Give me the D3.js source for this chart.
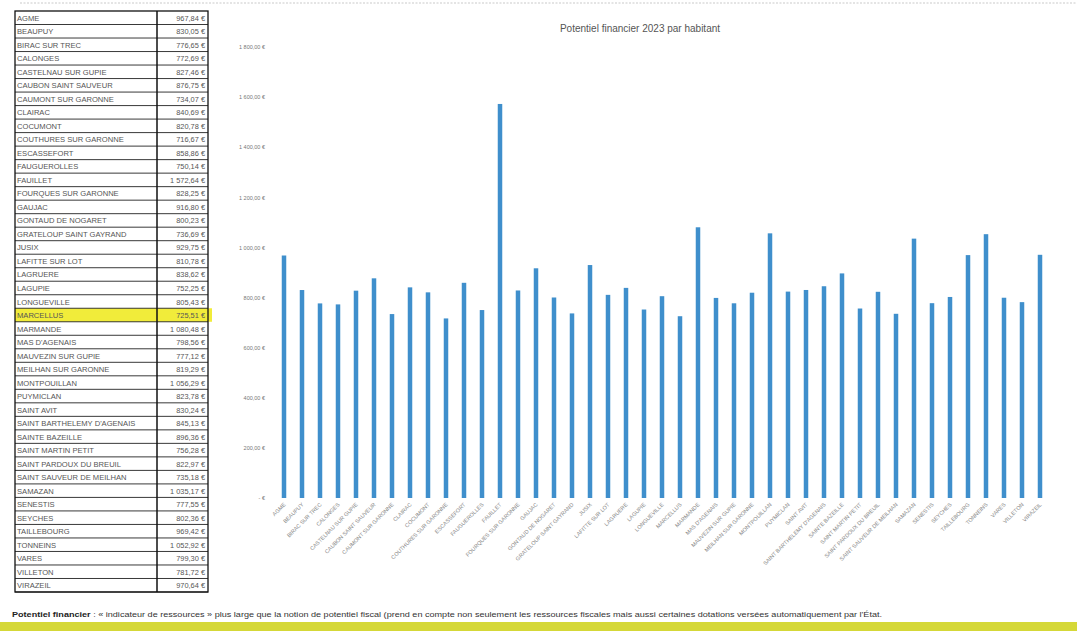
<!DOCTYPE html>
<html><head><meta charset="utf-8">
<script src="https://cdn.jsdelivr.net/npm/d3@7"></script>
<style>
html,body{margin:0;padding:0;background:#fff;}
svg{display:block;font-family:"Liberation Sans","DejaVu Sans",sans-serif;}
</style></head>
<body><svg id="c" width="1077" height="631"></svg>
<script>
const communes = ["AGME","BEAUPUY","BIRAC SUR TREC","CALONGES","CASTELNAU SUR GUPIE","CAUBON SAINT SAUVEUR","CAUMONT SUR GARONNE","CLAIRAC","COCUMONT","COUTHURES SUR GARONNE","ESCASSEFORT","FAUGUEROLLES","FAUILLET","FOURQUES SUR GARONNE","GAUJAC","GONTAUD DE NOGARET","GRATELOUP SAINT GAYRAND","JUSIX","LAFITTE SUR LOT","LAGRUERE","LAGUPIE","LONGUEVILLE","MARCELLUS","MARMANDE","MAS D'AGENAIS","MAUVEZIN SUR GUPIE","MEILHAN SUR GARONNE","MONTPOUILLAN","PUYMICLAN","SAINT AVIT","SAINT BARTHELEMY D'AGENAIS","SAINTE BAZEILLE","SAINT MARTIN PETIT","SAINT PARDOUX DU BREUIL","SAINT SAUVEUR DE MEILHAN","SAMAZAN","SENESTIS","SEYCHES","TAILLEBOURG","TONNEINS","VARES","VILLETON","VIRAZEIL"];
const potentiel = [967.84,830.05,776.65,772.69,827.46,876.75,734.07,840.69,820.78,716.67,858.86,750.14,1572.64,828.25,916.80,800.23,736.69,929.75,810.78,838.62,752.25,805.43,725.51,1080.48,798.56,777.12,819.29,1056.29,823.78,830.24,845.13,896.36,756.28,822.97,735.18,1035.17,777.55,802.36,969.42,1052.92,799.30,781.72,970.64];
const highlighted = ["MARCELLUS"];
const yTicks = [0,200,400,600,800,1000,1200,1400,1600,1800];
const title = "Potentiel financier 2023 par habitant";
const noteBold = "Potentiel financier";
const noteText = " : « indicateur de ressources » plus large que la notion de potentiel fiscal (prend en compte non seulement les ressources fiscales mais aussi certaines dotations versées automatiquement par l'État.";

const fr = d3.formatLocale({decimal:",",thousands:"\u00a0",grouping:[3],currency:["","\u00a0€"]});
const fmt = fr.format("$,.2f");
const fmtTick = v => v === 0 ? "-\u00a0€" : fmt(v);

const svg = d3.select("#c");

// scan border line on top
svg.append("line").attr("x1",20).attr("x2",1077).attr("y1",3).attr("y2",3)
  .attr("stroke","#bbb").attr("stroke-width",0.8).attr("stroke-dasharray","2,1.5");

// ---------- table ----------
const tX0 = 15, tX1 = 157, tX2 = 208, tTop = 11;
const rowY = d3.scaleBand().domain(communes).range([tTop, 592]);
const tbl = svg.append("g");
tbl.selectAll("rect.hl").data(communes.filter(c=>highlighted.includes(c))).join("rect")
  .attr("x",tX0).attr("y",d=>rowY(d)).attr("width",tX2-tX0+4).attr("height",rowY.bandwidth())
  .attr("fill","#f1ec3a");
tbl.selectAll("line.row").data(communes).join("line")
  .attr("x1",tX0).attr("x2",tX2).attr("y1",d=>rowY(d)+rowY.bandwidth()).attr("y2",d=>rowY(d)+rowY.bandwidth())
  .attr("stroke","#222").attr("stroke-width",0.9);
tbl.append("rect").attr("x",tX0).attr("y",tTop).attr("width",tX2-tX0).attr("height",592-tTop)
  .attr("fill","none").attr("stroke","#111").attr("stroke-width",1.3);
tbl.append("line").attr("x1",tX1).attr("x2",tX1).attr("y1",tTop).attr("y2",592).attr("stroke","#111").attr("stroke-width",1.5);
tbl.selectAll("text.name").data(communes).join("text")
  .attr("x",tX0+2).attr("y",d=>rowY(d)+rowY.bandwidth()/2+3)
  .attr("font-size",7.6).attr("fill","#555").text(d=>d);
tbl.selectAll("text.val").data(potentiel).join("text")
  .attr("x",tX2-3).attr("y",(d,i)=>rowY(communes[i])+rowY.bandwidth()/2+3)
  .attr("text-anchor","end").attr("font-size",7.4).attr("fill","#555").text(d=>fmt(d));

// ---------- chart ----------
const x = d3.scaleBand().domain(communes).range([275,1049]).paddingInner(0.75).paddingOuter(0.375);
const y = d3.scaleLinear().domain([0,1800]).range([498,47]);

svg.append("text").attr("x",640).attr("y",32).attr("text-anchor","middle")
  .attr("font-size",10).attr("fill","#555").text(title);

const ya = svg.append("g").attr("transform","translate(268,0)")
  .call(d3.axisLeft(y).tickValues(yTicks).tickSize(0).tickPadding(3).tickFormat(fmtTick));
ya.select(".domain").remove();
ya.selectAll("text").attr("font-size",5.5).attr("fill","#777").attr("font-family","Liberation Sans, sans-serif");

svg.append("g").selectAll("rect").data(potentiel).join("rect")
  .attr("x",(d,i)=>x(communes[i])).attr("width",x.bandwidth())
  .attr("y",d=>y(d)).attr("height",d=>y(0)-y(d)).attr("fill","#3f8fcc");

const xa = svg.append("g").attr("transform","translate(0,500)")
  .call(d3.axisBottom(x).tickSize(0).tickPadding(0));
xa.select(".domain").remove();
xa.selectAll("text").attr("font-size",5.5).attr("fill","#888").attr("font-family","Liberation Sans, sans-serif")
  .attr("text-anchor","end").attr("dy",0).attr("transform","translate(2,5) rotate(-45)");

// ---------- footnote ----------
const note = svg.append("text").attr("x",12).attr("y",617).attr("font-size",7).attr("fill","#333")
  .attr("textLength",870).attr("lengthAdjust","spacingAndGlyphs");
note.append("tspan").attr("font-weight","bold").attr("fill","#222").text(noteBold);
note.append("tspan").text(noteText);
svg.append("rect").attr("x",0).attr("y",622).attr("width",1077).attr("height",9).attr("fill","#d5d838");
</script></body></html>
